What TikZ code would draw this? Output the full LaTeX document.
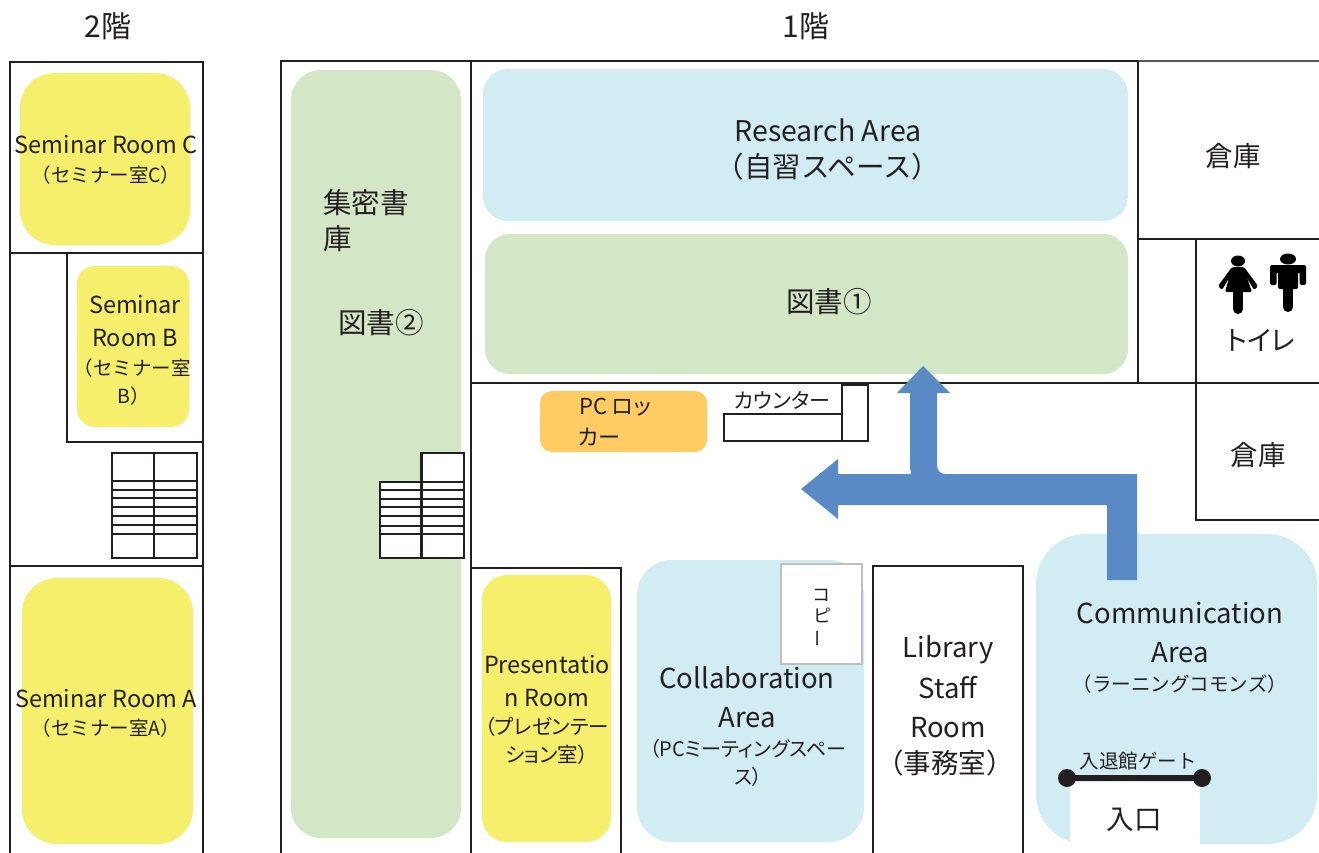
\documentclass[tikz,border=0pt]{standalone}
\usepackage{fontspec}
\setmainfont{Noto Sans CJK JP}
\definecolor{ink}{HTML}{231F20}
\definecolor{paleblue}{HTML}{D2ECF3}
\definecolor{palegreen}{HTML}{D3E7C7}
\definecolor{roomyellow}{HTML}{F6EF6C}
\definecolor{lockerorange}{HTML}{FFCB63}
\definecolor{arrowblue}{HTML}{5A8AC6}
\newcommand{\fs}[1]{\fontsize{#1}{#1}\selectfont}
\newcommand{\tight}{\addfontfeatures{RawFeature=+palt}}
% \zone{name}{x1}{y1}{x2}{y2}{style}{radius}
\newcommand{\zone}[7]{\path[#6,rounded corners=#7pt] (#2,#3) rectangle (#4,#5) coordinate[midway] (#1);}
\newcommand{\stairrow}[3]{\foreach \yy in {#3} {\draw[wall thin] (#1,\yy) -- (#2,\yy);}}
\tikzset{
  wall/.style={draw=ink,line width=2.8pt},
  wall thin/.style={draw=ink,line width=2.2pt},
  wall gray/.style={draw=ink!75,line width=1.4pt},
  blue zone/.style={fill=paleblue},
  green zone/.style={fill=palegreen},
  yellow zone/.style={fill=roomyellow},
  orange zone/.style={fill=lockerorange},
  lab/.style={text=ink,align=center,inner sep=0pt},
  head/.style={lab,font=\fs{30}},
  big/.style={lab,font=\fs{27.5}},
  wide/.style={lab,font=\fs{28.5}},
  seminar/.style={lab,font=\fs{23.5}},
  small/.style={lab,font=\fs{19.5}},
  tiny/.style={lab,font=\fs{19.5}},
}
\begin{document}
\begin{tikzpicture}[x=1pt,y=-1pt]
\useasboundingbox (0,0) rectangle (1319,852);
\clip (0,0) rectangle (1319,852);
\fill[white] (0,0) rectangle (1319,852);

% --- 2F zones
\zone{semC}{20}{73}{190}{245}{yellow zone}{35}
\zone{semB}{77}{266}{189}{427}{yellow zone}{18}
\zone{semA}{22}{578}{193}{844}{yellow zone}{35}
% --- 2F walls
\draw[wall] (10,862) -- (10,62) -- (203,62) -- (203,862);
\draw[wall] (10,253) -- (203,253);
\draw[wall] (10,566) -- (203,566);
\draw[wall] (67,253) -- (67,442) -- (203,442);
% --- 2F stairs
\draw[wall thin] (112,453) rectangle (197,558);
\draw[wall] (154,453) -- (154,558);
\stairrow{112}{197}{481,490,498,507,516,525,534}

% --- 1F zones
\zone{stack}{291}{70}{461}{838}{green zone}{30}
\zone{research}{483}{69}{1128}{221}{blue zone}{25}
\zone{books}{485}{234}{1128}{374}{green zone}{25}
\zone{locker}{540}{391}{707}{452}{orange zone}{12}
\zone{present}{482}{575}{611}{842}{yellow zone}{25}
\zone{collab}{637}{560}{864}{842}{blue zone}{35}
\zone{comm}{1036}{534}{1317}{844}{blue zone}{50}
\fill[white] (1070,782) rectangle (1200,852);

% --- 1F walls
\draw[wall] (281,862) -- (281,61) -- (1138,61);
\draw[wall] (471,61) -- (471,862);
\draw[wall gray] (1138,61) -- (1319,61);
\draw[wall] (1138,61) -- (1138,383);
\draw[wall] (471,383) -- (1319,383);
\draw[wall] (1138,239) -- (1319,239);
\draw[wall] (1196,239) -- (1196,520) -- (1319,520);
\draw[wall] (471,568) -- (621,568) -- (621,862);
\draw[wall,fill=white] (873,862) -- (873,566) -- (1023,566) -- (1023,862);
\draw[draw=black!25,line width=1.8pt,fill=white] (781,564) rectangle (862,664);

% --- counter
\draw[wall thin] (724,414) rectangle (842,441);
\draw[wall thin] (842,385) rectangle (868,441);

% --- 1F stairs
\draw[wall thin,fill=white] (380,482) rectangle (421.5,558);
\draw[wall thin,fill=white] (421.5,453) rectangle (464,558);
\stairrow{380}{464}{482,490,499,507,516,526,534}

% --- route arrows
\fill[arrowblue] (1107,580) -- (1137,580) -- (1137,474) -- (945,474)
  .. controls (941,474) and (937,471) .. (937,465) -- (937,393) -- (950,393) -- (923,366) -- (897,393)
  -- (910,393) -- (910,467) .. controls (910,470) and (911,472) .. (911,474) -- (838,474) -- (838,459) -- (801,489) -- (838,519) -- (838,505) -- (1107,505) -- cycle;

% --- gate
\coordinate (gateL) at (1067,778);
\coordinate (gateR) at (1202,778);
\draw[ink,line width=5.5pt] (gateL) -- (gateR);
\fill[ink] (gateL) circle (9);
\fill[ink] (gateR) circle (9);

% --- toilet pictograms
\begin{scope}[shift={(1238,0)}]
  \fill[black] (0,261) ellipse (7 and 5.5);
  \fill[black,rounded corners=1.5pt] (-6,267) -- (6,267) -- (20,286) -- (16,290) -- (9,278) -- (14,292) -- (-13,292) -- (-9,278) -- (-16,290) -- (-20,286) -- cycle;
  \draw[black,line width=10pt,line cap=round] (0,292) -- (0,309);
\end{scope}
\begin{scope}[shift={(1288,0)}]
  \fill[black] (0,259) ellipse (8 and 5.5);
  \fill[black,rounded corners=1.5pt] (-18,265) -- (18,265) -- (18,285) -- (11.5,285) -- (11.5,272) -- (10,272) -- (10,289) -- (-10,289) -- (-10,272) -- (-11.5,272) -- (-11.5,285) -- (-18,285) -- cycle;
  \draw[black,line width=10pt,line cap=round] (0,288) -- (0,307);
\end{scope}

% --- labels
\node[head] (t2f) at (108,26) {2階};
\node[head] (t1f) at (806,26) {1階};
\node[seminar] (tsemC) at (106,145) {Seminar Room C};
\node[small] (tsemCj) at (106,175) {（セミナー室C）};
\node[seminar] (tsemB) at (135,321) {Seminar\\[9.5pt]Room B};
\node[small] (tsemBj) at (132,368) {（セミナー室};
\node[small] (tsemBk) at (134,396) {B）};
\node[seminar] (tsemA) at (106,699) {Seminar Room A};
\node[small] (tsemAj) at (106,728) {（セミナー室A）};
\node[wide,anchor=west] (tstack1) at (323,203) {集密書};
\node[wide,anchor=west] (tstack2) at (323,239) {庫};
\node[wide] (tbook2) at (381,323) {図書②};
\node[wide] (tres) at (828,130) {Research Area};
\node[wide] (tresj) at (828,167) {（自習スペース）};
\node[wide] (tbook1) at (829,302) {図書①};
\node[lab,font=\fs{22}\tight,anchor=west] (tpc1) at (579,407) {PC ロッ};
\node[lab,font=\fs{22}\tight,anchor=west] (tpc2) at (578,437) {カー};
\node[lab,font=\fs{21}\tight] (tcount) at (782,400) {カウンター};
\node[seminar] (tpres) at (547,681) {Presentatio\\[9.5pt]n Room};
\node[lab,font=\fs{20.5}\tight] (tpresj) at (547,741) {（プレゼンテー\\[7.5pt]ション室）};
\node[big] (tcol) at (747,697) {Collaboration\\[11.5pt]Area};
\node[lab,font=\fs{20}\tight] (tcolj) at (748,763) {（PCミーティングスペー\\[8pt]ス）};
\node[lab,font=\fs{18}] (tcopy1) at (821,595) {コ};
\node[lab,font=\fs{18}] (tcopy2) at (822,615) {ピ};
\node[lab,font=\fs{18},rotate=90] (tcopy3) at (821,638) {ー};
\node[big] (tlib) at (948,687) {Library\\[11.5pt]Staff\\[11.5pt]Room};
\node[big] (tlibj) at (945,763) {（事務室）};
\node[big] (tcom) at (1180,633) {Communication\\[11.5pt]Area};
\node[small] (tcomj) at (1180,684) {（ラーニングコモンズ）};
\node[tiny] (tgate) at (1138,761) {入退館ゲート};
\node[big] (tent) at (1134,820) {入口};
\node[big] (tst1) at (1233,156) {倉庫};
\node[big] (tst2) at (1258,455) {倉庫};
\node[lab,font=\fs{27}\tight] (tlav) at (1261,340) {トイレ};
\end{tikzpicture}
\end{document}
